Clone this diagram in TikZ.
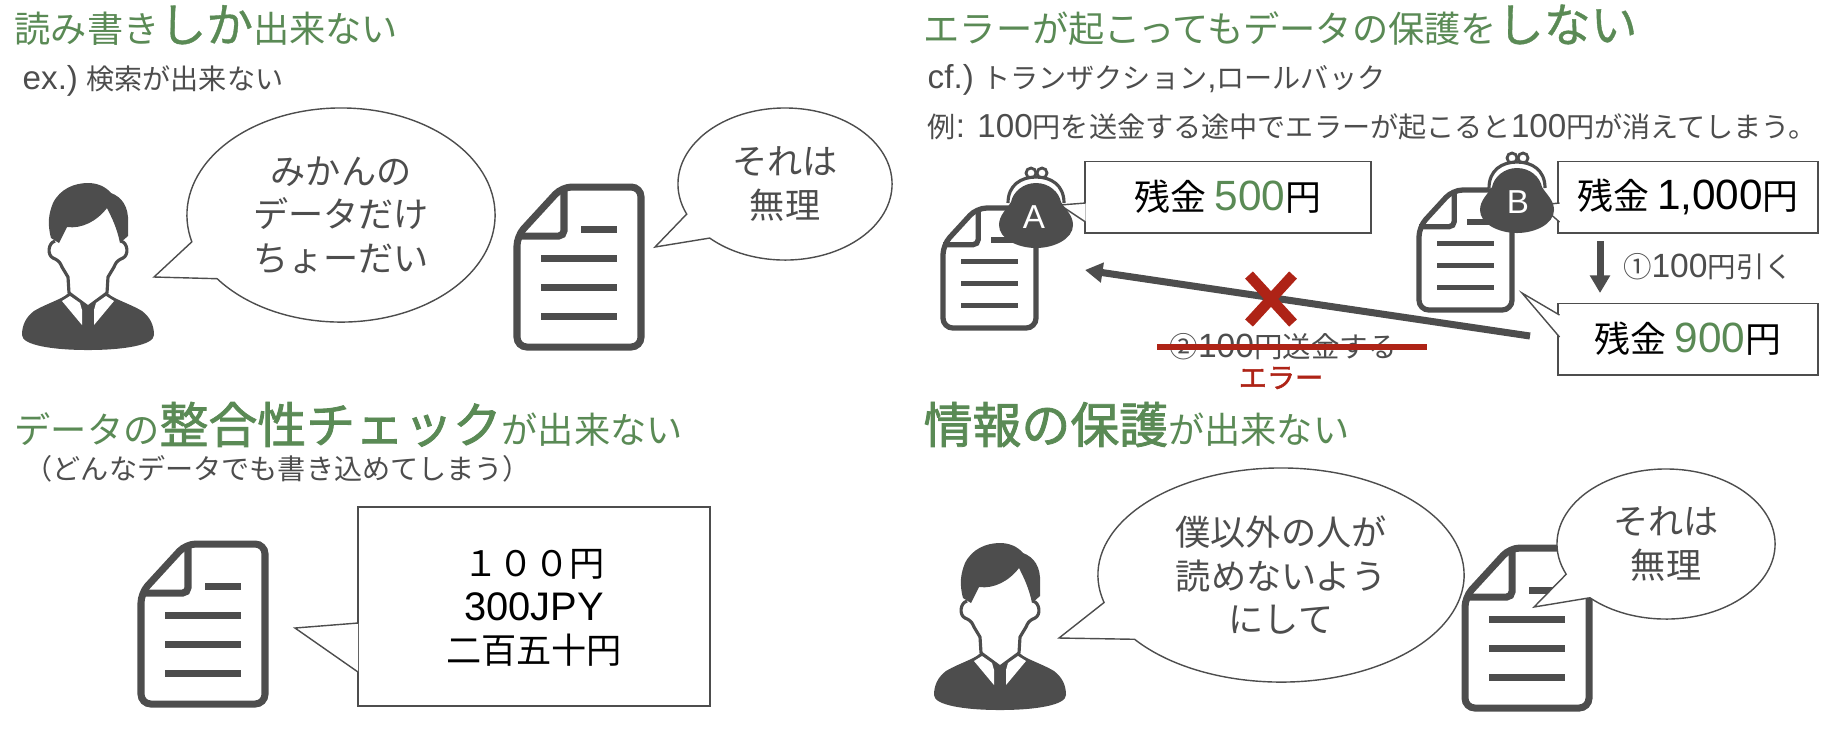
\documentclass[tikz,border=0pt]{standalone}
\usepackage{fontspec}
\setmainfont{Noto Sans CJK JP}
\newfontfamily\latinfont[Scale=1.18]{Liberation Sans}
\newfontfamily\midfont[FakeBold=0.8]{Noto Sans CJK JP}
\newfontfamily\heavyfont[FakeBold=1.7]{Noto Sans CJK JP}
\usetikzlibrary{arrows.meta,shapes.callouts}

\definecolor{ink}{HTML}{4D4D4D}
\definecolor{leaf}{HTML}{5A8A55}
\definecolor{alert}{HTML}{AE2316}

\newcommand{\ltn}[1]{{\latinfont #1}}
\newcommand{\bigt}[1]{{\fontsize{13.3}{16}\selectfont\midfont #1}}
\newcommand{\hugt}[1]{{\fontsize{13.9}{16}\selectfont\heavyfont #1}}

\tikzset{
    title/.style={anchor=base west, inner sep=0pt, text=leaf, font=\fontsize{10.3}{12}\selectfont},
    note/.style={anchor=base west, inner sep=0pt, text=ink, font=\fontsize{8}{10}\selectfont},
    talk/.style={ellipse callout, draw=ink, fill=white, line width=0.4pt, inner sep=0pt, outer sep=0pt,
        callout pointer arc=22, align=center, text=ink, font=\fontsize{10}{12.3}\selectfont},
    balance/.style={rectangle, draw=ink, fill=white, line width=0.55pt, inner sep=0pt, outer sep=0pt,
        minimum height=0.71cm, text=black, font=\fontsize{10.2}{12}\selectfont},
    thick arrow/.style={draw=ink, line width=2pt, -{Triangle[length=5pt,width=5.5pt]}},
    small/.style={inner sep=0pt, text=ink, font=\fontsize{8.1}{10}\selectfont},
}

\begin{document}
\begin{tikzpicture}[x=0.01cm,y=-0.01cm]

\useasboundingbox (0,0) rectangle (1837,732);

% headings
\node[title] (head1) at (14,42) {読み書き\bigt{しか}出来ない};
\node[title] (head2) at (923,42) {エラーが起こってもデータの保護を\bigt{しない}};
\node[title] (head3) at (14,443) {データの\hugt{整合性チェック}が出来ない};
\node[title] (head4) at (923,443) {\hugt{情報の保護}が出来ない};

\node[note] (sub1) at (22,89) {\ltn{ex.)} 検索が出来ない};
\node[note] (sub2) at (927,88) {\ltn{cf.)} トランザクション\ltn{,}ロールバック};
\node[note] (sub3) at (927,137) {例\ltn{: 100}円を送金する途中でエラーが起こると\ltn{100}円が消えてしまう。};
\node[note] (sub4) at (24,479) {（どんなデータでも書き込めてしまう）};

% documents
\foreach \x/\y/\s in {513/183/1, 137/540/1, 1461/544/1, 940/205/0.75, 1416/187/0.75}
{
    \begin{scope}[shift={(\x,\y)},scale=\s]
    \draw[ink, line width=\s*2pt, rounded corners=2.8pt] (49,4) -- (128,4) -- (128,164) -- (4,164) -- (4,53) -- cycle;
    \draw[ink, line width=\s*2pt, rounded corners=1.5pt] (51,6) -- (51,53) -- (4,53);
    \fill[ink] (68,43) rectangle (104,50);
    \foreach \j in {72,101,130}
        \fill[ink] (28,\j) rectangle (104,\j+7);
    \end{scope}
}

% persons
\foreach \x/\y in {22/183, 934/543}
{
    \begin{scope}[shift={(\x,\y)}]
    \fill[ink] (47,108) .. controls (47,114) and (25,120) .. (12,128) .. controls (4,134) and (0,142) .. (0,152)
        .. controls (0,162) and (30,167) .. (66,167) .. controls (102,167) and (132,162) .. (132,152)
        .. controls (132,142) and (128,134) .. (120,128) .. controls (107,120) and (85,114) .. (85,108)
        -- (66,122) -- cycle;
    \fill[white] (40,118) -- (48,113) -- (58,120) -- (60,127) -- (60,142) -- cycle;
    \fill[white] (92,118) -- (84,113) -- (74,120) -- (72,127) -- (72,142) -- cycle;
    \fill[ink] (29,55) .. controls (25,40) and (27,30) .. (31,20) .. controls (38,6) and (52,0) .. (66,0)
        .. controls (76,0) and (84,4) .. (89,10) .. controls (100,14) and (107,24) .. (106,40)
        -- (106,53) -- (98,60) .. controls (95,45) and (90,35) .. (85,25)
        .. controls (75,38) and (60,46) .. (45,44) -- (37,60) -- cycle;
    \draw[ink, line width=0.9pt, line join=round] (33,58) .. controls (26,60) and (25,72) .. (31,75)
        .. controls (38,78) and (38,80) .. (40,84) -- (46,94) -- (47,110);
    \draw[ink, line width=0.9pt, line join=round] (99,58) .. controls (106,60) and (107,72) .. (101,75)
        .. controls (94,78) and (94,80) .. (92,84) -- (86,94) -- (85,110);
    \end{scope}
}

% speech
\node[talk, minimum width=3.08cm, minimum height=2.14cm, callout absolute pointer={(154,277)}] (mikan) at (341,215)
    {みかんの\\データだけ\\ちょーだい};
\node[talk, minimum width=2.14cm, minimum height=1.52cm, callout absolute pointer={(655,247)}] (refuse1) at (785,184)
    {それは\\無理};
\node[talk, minimum width=3.66cm, minimum height=2.14cm, callout absolute pointer={(1059,638)}] (secret) at (1281,575)
    {僕以外の人が\\読めないよう\\にして};
\node[talk, minimum width=2.18cm, minimum height=1.50cm, callout absolute pointer={(1534,607)}] (refuse2) at (1666,544)
    {それは\\無理};

% mixed values
\node[rectangle, draw=ink, fill=white, line width=0.55pt, inner sep=0pt, minimum width=3.52cm, minimum height=1.99cm,
    text=white] (values) at (534,606.5) {};
\node[inner sep=0pt, align=center, text=black, font=\fontsize{10}{12.4}\selectfont] (valuestext) at (534,608)
    {１００円\\{\latinfont\fontsize{9.6}{12.4}\selectfont 300JPY}\\二百五十円};
\coordinate (valuesa) at (358,623);
\coordinate (valuesb) at (358,672);
\coordinate (valuestip) at (295,628);
\fill[white] (valuesa) -- (valuestip) -- (valuesb) -- cycle;
\draw[ink, line width=0.4pt] (valuesa) -- (valuestip) -- (valuesb);

% balances
\node[balance, minimum width=2.85cm] (balA) at (1228,197) {残金 \textcolor{leaf}{\ltn{500}}円};
\node[balance, minimum width=2.59cm] (balB) at (1688,197) {残金 \ltn{1,000}円};
\node[balance, minimum width=2.59cm] (balC) at (1688,339) {残金 \textcolor{leaf}{\ltn{900}}円};

\foreach \n/\a/\b/\tx/\ty in {A/1085.5/1085.5/1060/205, B/1559.5/1559.5/1540/205}
{
    \coordinate (tip\n) at (\tx,\ty);
    \fill[white] (\a,203) -- (tip\n) -- (\b,222) -- cycle;
    \draw[ink, line width=0.4pt] (\a,203) -- (tip\n) -- (\b,222);
}
\coordinate (tipC) at (1522,293);
\fill[white] (1559.5,315) -- (tipC) -- (1559.5,337) -- cycle;
\draw[ink, line width=0.4pt] (1559.5,315) -- (tipC) -- (1559.5,337);

% purses
\foreach \x/\y in {999/167, 1480/152}
{
    \begin{scope}[shift={(\x,\y)}]
    \draw[ink, line width=0.8pt] (32,6) circle (5);
    \draw[ink, line width=0.8pt] (43,6) circle (5);
    \draw[ink, fill=white, line width=0.9pt] (9,36) .. controls (9,18) and (22,10) .. (37,10) .. controls (52,10) and (65,18) .. (65,36);
    \fill[ink] (37,16) .. controls (50,16) and (60,25) .. (62,35) .. controls (66,42) and (74,48) .. (74,58)
        .. controls (74,72) and (55,81) .. (37,81) .. controls (19,81) and (0,72) .. (0,58)
        .. controls (0,48) and (8,42) .. (12,35) .. controls (14,25) and (24,16) .. (37,16) -- cycle;
    \end{scope}
}
\node[inner sep=0pt, text=white, font=\fontsize{8}{10}\selectfont\latinfont] (purseA) at (1034,217) {A};
\node[inner sep=0pt, text=white, font=\fontsize{8}{10}\selectfont\latinfont] (purseB) at (1518,202) {B};

% transfer
\coordinate (stepa) at (1600,241);
\coordinate (stepb) at (1600,293);
\draw[thick arrow] (stepa) -- (stepb);
\node[small] (steplabel) at (1708,267) {①\ltn{100}円引く};

\coordinate (senda) at (1530,336);
\coordinate (sendb) at (1085,270);
\draw[thick arrow] (senda) -- (sendb);

\node[small] (sendlabel) at (1283,347) {②\ltn{100}円送金する};
\coordinate (strikea) at (1157,347);
\coordinate (strikeb) at (1427,347);
\draw[alert, line width=1.7pt] (strikea) -- (strikeb);

\coordinate (crossa) at (1249,275);
\coordinate (crossb) at (1293,323);
\coordinate (crossc) at (1293,275);
\coordinate (crossd) at (1249,323);
\draw[alert, line width=3pt] (crossa) -- (crossb);
\draw[alert, line width=3pt] (crossc) -- (crossd);

\node[inner sep=0pt, text=alert, font=\fontsize{8}{10}\selectfont\heavyfont] (errlabel) at (1281,378) {エラー};

\end{tikzpicture}
\end{document}
